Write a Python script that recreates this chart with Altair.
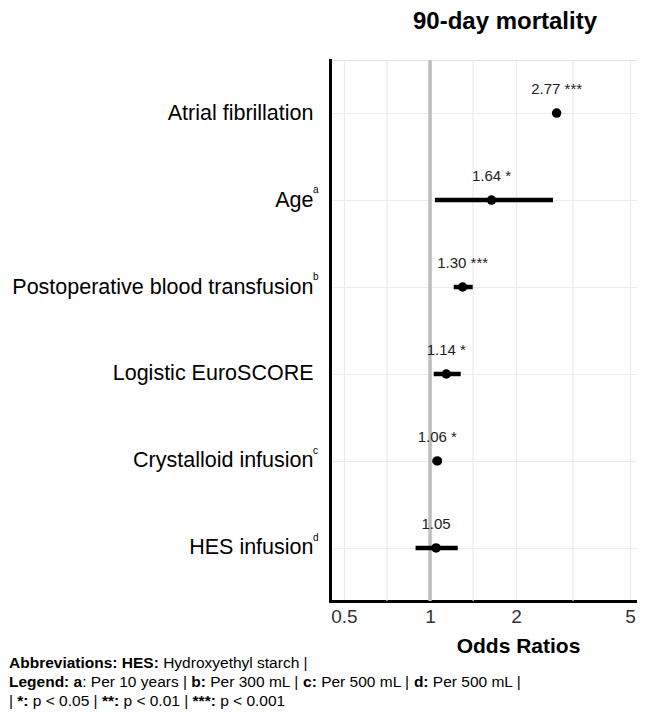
import altair as alt
import pandas as pd

# ---------------- data ----------------
predictors = [
    "Atrial fibrillation",
    "Age",
    "Postoperative blood transfusion",
    "Logistic EuroSCORE",
    "Crystalloid infusion",
    "HES infusion",
]
superscripts = ["", "a", "b", "", "c", "d"]
odds_ratio = [2.77, 1.64, 1.30, 1.14, 1.06, 1.05]
ci_low = [None, 1.04, 1.21, 1.03, 1.02, 0.89]
ci_high = [None, 2.69, 1.41, 1.28, 1.10, 1.25]
significance = ["***", "*", "***", "*", "*", ""]
major_ticks = [0.5, 1, 2, 5]
minor_grid = [0.707, 1.414, 3.162]
reference_value = [1]
title_text = "90-day mortality"
x_title = "Odds Ratios"

foot_text = [
    ["Abbreviations: HES: ", "Hydroxyethyl starch |"],
    ["Legend: a", ": Per 10 years | ", "b:", " Per 300 mL | ", "c:", " Per 500 mL | ", "d:", " Per 500 mL |"],
    ["| ", "*:", " p < 0.05 | ", "**:", " p < 0.01 | ", "***:", " p < 0.001"],
]
foot_bold = [
    [True, False],
    [True, False, True, False, True, False, True, False],
    [False, True, False, True, False, True, False],
]

# ---------------- layout (pixels, page coords) ----------------
PLOT_LEFT, PLOT_TOP = 330, 60
FOOT_SIZE = 15.5
foot_baseline = [668, 687, 706]
foot_start = 9

# approximate Helvetica/Arial advance widths (per 1000 em) for laying out footnote runs
W_REG = {" ": 278, "|": 260, "*": 389, ":": 278, "<": 584, ".": 278, "H": 722, "P": 667,
         "L": 556, "y": 500, "d": 556, "r": 333, "o": 556, "x": 500, "e": 556, "t": 278,
         "h": 556, "l": 222, "s": 500, "a": 556, "c": 500, "m": 833, "p": 556, "n": 556,
         "i": 222, "g": 556, "b": 556, "u": 556, "v": 500}
W_BOLD = {" ": 278, ":": 333, "*": 389, "A": 722, "b": 611, "r": 389, "e": 556, "v": 556,
          "i": 278, "a": 556, "t": 333, "o": 611, "n": 611, "s": 556, "H": 722, "E": 667,
          "S": 667, "L": 611, "g": 611, "d": 611, "c": 556}


def text_width(s, bold):
    table = W_BOLD if bold else W_REG
    return sum(table.get(ch, 556) for ch in s) * FOOT_SIZE / 1000.0


df = pd.DataFrame({
    "predictor": predictors,
    "sup": superscripts,
    "or": odds_ratio,
    "low": ci_low,
    "high": ci_high,
    "label": [f"{v:.2f} {s}".strip() for v, s in zip(odds_ratio, significance)],
})

FONT = "Liberation Sans"
xscale = alt.Scale(type="log", domain=[0.447, 5.29], nice=False, zero=False)
xaxis = alt.Axis(
    values=major_ticks, format="~g", title=x_title,
    titleFontSize=21, titleFont=FONT, titleFontWeight="bold", titleColor="black",
    titleX=188, titleY=51, titleBaseline="alphabetic", titleAnchor="start", titleAlign="center",
    ticks=False, domainColor="black", domainWidth=3, domainCap="square",
    labelFontSize=19, labelColor="#333333", labelPadding=6, labelFont=FONT,
    grid=True, gridColor="#ebebeb", gridWidth=1.2, labelFlush=False,
)
yenc = alt.Y(
    "predictor:N", sort=predictors,
    scale=alt.Scale(type="point", padding=0.61),
    axis=alt.Axis(
        title=None, ticks=False, domainColor="black", domainWidth=3, domainCap="square",
        labelFontSize=21.5, labelColor="black", labelPadding=17, labelFont=FONT,
        grid=True, gridColor="#ebebeb", gridWidth=1.2, labelLimit=500,
    ),
)

base = alt.Chart(df)

minor = alt.Chart(pd.DataFrame({"v": minor_grid})).mark_rule(
    color="#ebebeb", strokeWidth=1.2
).encode(x=alt.X("v:Q", scale=xscale, axis=xaxis))

ref = alt.Chart(pd.DataFrame({"v": reference_value})).mark_rule(
    color="#bdbdbd", strokeWidth=3.5
).encode(x=alt.X("v:Q", scale=xscale, axis=xaxis))

ci = base.mark_rule(color="black", strokeWidth=4.5).encode(
    x=alt.X("low:Q", scale=xscale, axis=xaxis),
    x2="high:Q",
    y=yenc,
)

pts = base.mark_circle(color="black", size=90, opacity=1).encode(
    x=alt.X("or:Q", scale=xscale, axis=xaxis),
    y=yenc,
)

lbl = base.mark_text(
    fontSize=15, font=FONT, color="#222222", baseline="alphabetic", dy=-19
).encode(
    x=alt.X("or:Q", scale=xscale, axis=xaxis),
    y=yenc,
    text="label:N",
)

sup = base.mark_text(
    fontSize=10, font=FONT, color="black", align="left", baseline="middle", dy=-10
).encode(
    x=alt.value(313 - PLOT_LEFT),
    y=yenc,
    text="sup:N",
)

title = alt.Chart(pd.DataFrame({"t": [title_text]})).mark_text(
    fontSize=24, font=FONT, fontWeight="bold", color="black",
    align="center", baseline="alphabetic",
).encode(x=alt.value(505 - PLOT_LEFT), y=alt.value(29 - PLOT_TOP), text="t:N")

layers = [minor, ref, ci, pts, lbl, sup, title]

for line_i, (texts, bolds) in enumerate(zip(foot_text, foot_bold)):
    cursor = foot_start
    for t, b in zip(texts, bolds):
        lead = text_width(t[: len(t) - len(t.lstrip(" "))], b)
        shown = t.strip(" ")
        layers.append(
            alt.Chart(pd.DataFrame({"t": [shown]})).mark_text(
                fontSize=FOOT_SIZE, font=FONT, fontWeight="bold" if b else "normal",
                color="black", align="left", baseline="alphabetic",
            ).encode(
                x=alt.value(cursor + lead - PLOT_LEFT),
                y=alt.value(foot_baseline[line_i] - PLOT_TOP),
                text="t:N",
            )
        )
        cursor += text_width(t, b)

chart = alt.layer(*layers).properties(
    width=307, height=541,
    autosize=alt.AutoSizeParams(type="none"),
    padding={"left": 322, "top": 52, "right": 0, "bottom": 109},
).configure_view(stroke=None).configure(font=FONT)

chart.save("out.html", embed_options={"renderer": "svg", "actions": False})
